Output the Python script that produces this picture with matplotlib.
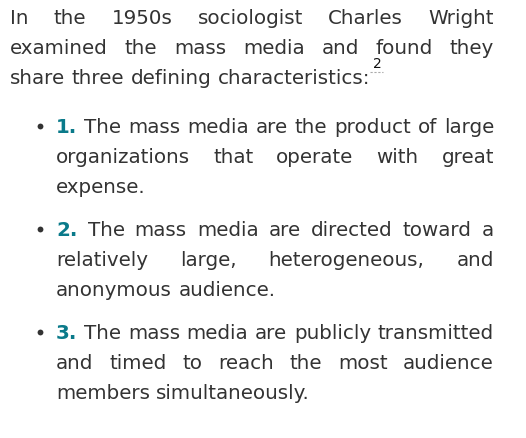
import matplotlib
matplotlib.use("Agg")
import matplotlib.pyplot as plt

# Text content (lines as displayed)
intro_lines = [
    "In the 1950s sociologist Charles Wright",
    "examined the mass media and found they",
    "share three defining characteristics:",
]
footnote = "2"
bullet_numbers = ["1.", "2.", "3."]
bullet_lines = [
    ["The mass media are the product of large",
     "organizations that operate with great",
     "expense."],
    ["The mass media are directed toward a",
     "relatively large, heterogeneous, and",
     "anonymous audience."],
    ["The mass media are publicly transmitted",
     "and timed to reach the most audience",
     "members simultaneously."],
]

TEXT = "#333333"
TEAL = "#0a7a8a"
FS = 14.3
W, H = 526, 439

plt.rcParams["font.family"] = ["DejaVu Sans"]
fig = plt.figure(figsize=(W / 100, H / 100), dpi=100)
ax = fig.add_axes([0, 0, 1, 1])
ax.set_xlim(0, W)
ax.set_ylim(H, 0)
ax.axis("off")
fig.canvas.draw()
renderer = fig.canvas.get_renderer()


def width(s, **kw):
    t = ax.text(0, 0, s, fontsize=kw.get("fs", FS), fontweight=kw.get("weight", "normal"))
    w = t.get_window_extent(renderer).width
    t.remove()
    return w


space_w = width("a a") - width("aa")


def draw_line(words, x0, x1, y, justify, styles=None):
    styles = styles or [{}] * len(words)
    ws = [width(w, weight=s.get("weight", "normal")) for w, s in zip(words, styles)]
    if justify and len(words) > 1:
        gap = (x1 - x0 - sum(ws)) / (len(words) - 1)
    else:
        gap = space_w
    x = x0
    for w, wd, s in zip(words, ws, styles):
        ax.text(x, y, w, fontsize=FS, color=s.get("color", TEXT),
                fontweight=s.get("weight", "normal"), va="baseline", ha="left")
        x += wd + gap
    return x - gap


RIGHT = 494
# intro paragraph
intro_base = [23.5, 53.5, 83.5]
for i, line in enumerate(intro_lines):
    end = draw_line(line.split(), 10, RIGHT, intro_base[i], i < len(intro_lines) - 1)
ax.text(end + 3, 68, footnote, fontsize=10, color="#111111", va="baseline", ha="left")
ax.plot([end, end + 13], [72.5, 72.5], color="#aaaaaa", lw=0.8, ls=(0, (2, 1.5)))

# bullets
bullet_base = [133, 236, 339]
for b, (num, lines) in enumerate(zip(bullet_numbers, bullet_lines)):
    y0 = bullet_base[b]
    ax.plot([40], [y0 - 6], "o", color=TEXT, markersize=4.2, markeredgewidth=0)
    for i, line in enumerate(lines):
        words = line.split()
        styles = [{}] * len(words)
        if i == 0:
            words = [num] + words
            styles = [{"color": TEAL, "weight": "bold"}] + styles
        draw_line(words, 56, RIGHT, y0 + 30 * i, i < len(lines) - 1, styles)

fig.savefig("out.png", dpi=100, facecolor="white")
